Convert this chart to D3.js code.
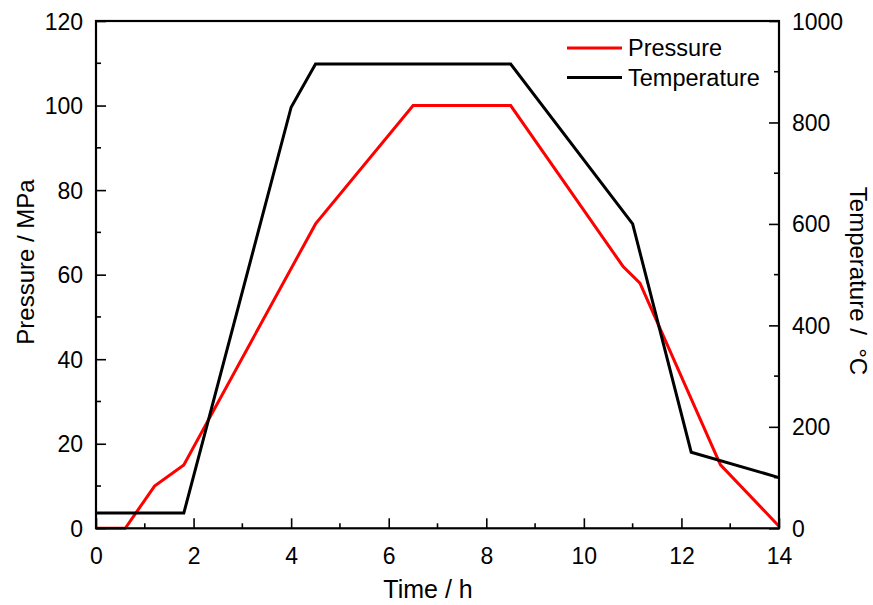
<!DOCTYPE html>
<html><head><meta charset="utf-8">
<script src="https://cdn.jsdelivr.net/npm/d3@7"></script>
<style>body{margin:0;background:#fff}text{font-family:"Liberation Sans",Arial,sans-serif;fill:#000}</style>
</head><body>
<svg id="c" width="873" height="605"></svg>
<script>
const pressureTime = [0, 0.6, 1.2, 1.8, 4.5, 6.5, 8.5, 10.8, 11.15, 12.8, 14];
const pressureVals = [0, 0, 10, 15, 72, 100, 100, 62, 58, 15, 0.5];
const tempTime = [0, 1.8, 4.0, 4.5, 8.5, 11.0, 12.2, 14];
const tempVals = [30, 30, 830, 915, 915, 600, 150, 100];
const xTicks = [0, 2, 4, 6, 8, 10, 12, 14];
const yLeftTicks = [0, 20, 40, 60, 80, 100, 120];
const yRightTicks = [0, 200, 400, 600, 800, 1000];
const seriesNames = ["Pressure", "Temperature"];
const seriesColors = ["#ff0000", "#000000"];

const L = 96, R = 779, T = 21, B = 528.3;
const svg = d3.select("#c");
const x = d3.scaleLinear().domain([0, 14]).range([L, R]);
const yL = d3.scaleLinear().domain([0, 120]).range([B, T]);
const yR = d3.scaleLinear().domain([0, 1000]).range([B, T]);
const fs = "23px";
const ff = '"Liberation Sans",Arial,sans-serif';

// minor ticks
const g = svg.append("g");
d3.range(1, 14, 2).forEach(v => {
  g.append("line").attr("x1", x(v)).attr("x2", x(v)).attr("y1", B).attr("y2", B - 5).attr("stroke", "#000").attr("stroke-width", 1.6);
});
d3.range(10, 120, 20).forEach(v => {
  g.append("line").attr("x1", L).attr("x2", L + 5).attr("y1", yL(v)).attr("y2", yL(v)).attr("stroke", "#000").attr("stroke-width", 1.6);
});
d3.range(100, 1000, 200).forEach(v => {
  g.append("line").attr("x1", R).attr("x2", R - 5).attr("y1", yR(v)).attr("y2", yR(v)).attr("stroke", "#000").attr("stroke-width", 1.6);
});

// axes with inward ticks
const fmt = d3.format("d");
const ax = svg.append("g").attr("transform", `translate(0,${B})`)
  .call(d3.axisBottom(x).tickValues(xTicks).tickFormat(fmt).tickSizeInner(-10).tickSizeOuter(0));
const ayl = svg.append("g").attr("transform", `translate(${L},0)`)
  .call(d3.axisLeft(yL).tickValues(yLeftTicks).tickFormat(fmt).tickSizeInner(-10).tickSizeOuter(0));
const ayr = svg.append("g").attr("transform", `translate(${R},0)`)
  .call(d3.axisRight(yR).tickValues(yRightTicks).tickFormat(fmt).tickSizeInner(-10).tickSizeOuter(0));
[ax, ayl, ayr].forEach(a => {
  a.selectAll("path").remove();
  a.attr("font-size", null).attr("font-family", null);
  a.selectAll("line").attr("stroke", "#000").attr("stroke-width", 1.6);
  a.selectAll("text").style("font-size", fs).style("font-family", ff);
});
ax.selectAll("text").attr("y", 28).attr("dy", "0.35em");
ayl.selectAll("text").attr("x", -13).attr("dy", "0.35em");
ayr.selectAll("text").attr("x", 13).attr("dy", "0.35em");

// lines
const pData = pressureTime.map((t, i) => [t, pressureVals[i]]);
const tData = tempTime.map((t, i) => [t, tempVals[i]]);
svg.append("path").datum(pData).attr("fill", "none").attr("stroke", seriesColors[0]).attr("stroke-width", 3)
  .attr("d", d3.line().x(d => x(d[0])).y(d => yL(d[1])));
svg.append("path").datum(tData).attr("fill", "none").attr("stroke", seriesColors[1]).attr("stroke-width", 3)
  .attr("d", d3.line().x(d => x(d[0])).y(d => yR(d[1])));

// frame
svg.append("rect").attr("x", L).attr("y", T).attr("width", R - L).attr("height", B - T)
  .attr("fill", "none").attr("stroke", "#000").attr("stroke-width", 2.2);

// axis titles
svg.append("text").attr("x", 428).attr("y", 598).attr("text-anchor", "middle").style("font-size", "25px").text("Time / h");
svg.append("text").attr("transform", "translate(34,262) rotate(-90)").attr("text-anchor", "middle").style("font-size", "24px").text("Pressure / MPa");
svg.append("text").attr("transform", "translate(850,281) rotate(90)").attr("text-anchor", "middle").style("font-size", "24px").text("Temperature / \u00A0\u00B0C");

// legend
seriesNames.forEach((n, i) => {
  const yy = 48 + i * 29.5;
  svg.append("line").attr("x1", 567).attr("x2", 622).attr("y1", yy).attr("y2", yy).attr("stroke", seriesColors[i]).attr("stroke-width", 3);
  svg.append("text").attr("x", 628).attr("y", yy).attr("dy", "0.35em").style("font-size", "23.5px").text(n);
});
</script>
</body></html>
